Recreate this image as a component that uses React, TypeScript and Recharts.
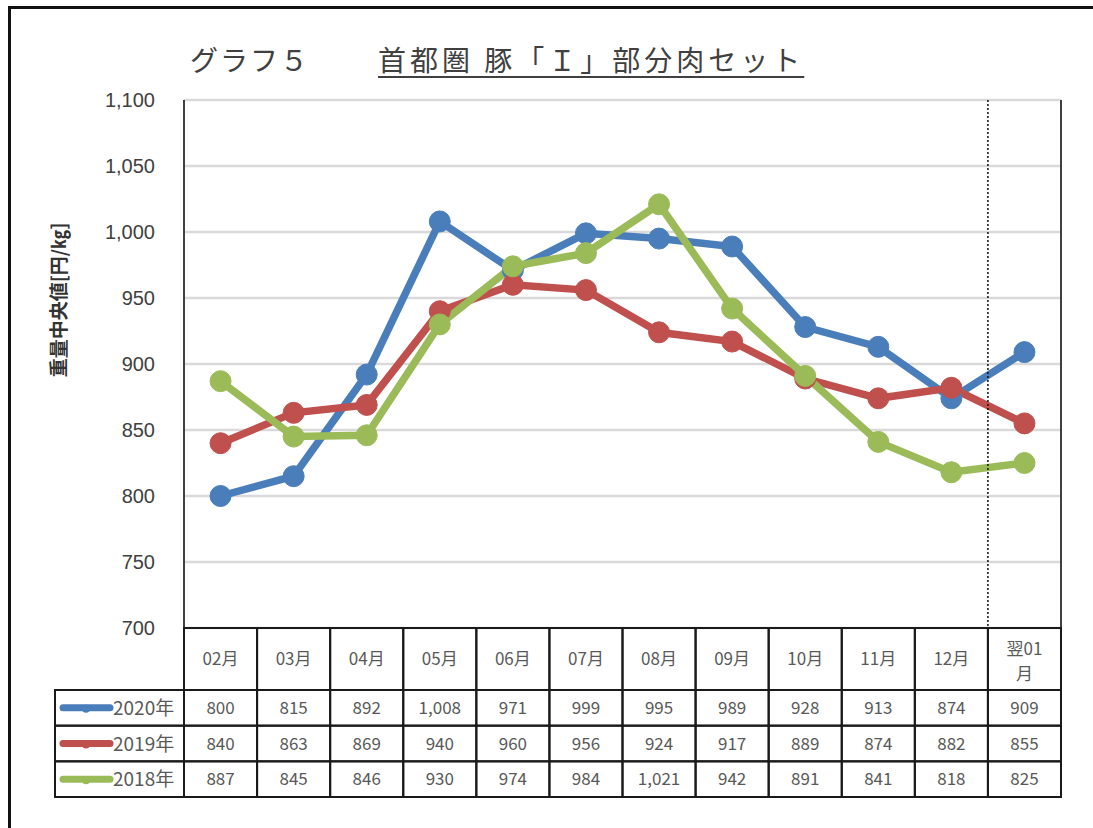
import { LineChart, Line, XAxis, YAxis, CartesianGrid } from "recharts";

const months = ["02月", "03月", "04月", "05月", "06月", "07月", "08月", "09月", "10月", "11月", "12月", "翌01月"];
const y2020 = [800, 815, 892, 1008, 971, 999, 995, 989, 928, 913, 874, 909];
const y2019 = [840, 863, 869, 940, 960, 956, 924, 917, 889, 874, 882, 855];
const y2018 = [887, 845, 846, 930, 974, 984, 1021, 942, 891, 841, 818, 825];
const seriesNames = ["2020年", "2019年", "2018年"];
const seriesColors = ["#4a7ebb", "#c0504d", "#9bbb59"];
const yTicks = [700, 750, 800, 850, 900, 950, 1000, 1050, 1100];

const data = months.map((m, i) => ({ month: m, y2020: y2020[i], y2019: y2019[i], y2018: y2018[i] }));
const seriesValues = [y2020, y2019, y2018];

// layout
const W = 1093;
const H = 828;
const PLOT_L = 184;
const PLOT_R = 1061;
const PLOT_T = 100;
const PLOT_B = 628;
const TABLE_B = 797;
const LEGEND_L = 55;
const CELL_W = (PLOT_R - PLOT_L) / months.length;
const HEAD_H = 62;
const ROW_H = (TABLE_B - PLOT_B - HEAD_H) / 3;

const fmt = (v: number) => v.toLocaleString("en-US");
const cellText = { fontFamily: "'Noto Sans CJK JP', sans-serif", fontSize: 17, fill: "#595959" };
const titleFont = { fontFamily: "'Noto Sans CJK JP', sans-serif", fontSize: 28, color: "#404040" };

// each x tick draws a column of the data table (plus the legend column on the first one)
function TableColumn(props: any) {
  const { x, y, payload } = props;
  const i = months.indexOf(payload.value);
  const left = x - CELL_W / 2;
  const label: string = payload.value;
  return (
    <g>
      {i === months.length - 1 && (
        <line x1={left} x2={left} y1={PLOT_T} y2={y} stroke="#111" strokeWidth={1.5} strokeDasharray="2 2" />
      )}
      <rect x={left} y={y} width={CELL_W} height={HEAD_H} fill="none" stroke="#1a1a1a" strokeWidth={2} />
      {label.length > 3 ? (
        <text textAnchor="middle" {...cellText}>
          <tspan x={x} y={y + 27}>{label.slice(0, 3)}</tspan>
          <tspan x={x} y={y + 52}>{label.slice(3)}</tspan>
        </text>
      ) : (
        <text x={x} y={y + HEAD_H / 2 + 6} textAnchor="middle" {...cellText}>{label}</text>
      )}
      {seriesValues.map((vals, r) => (
        <g key={r}>
          <rect x={left} y={y + HEAD_H + r * ROW_H} width={CELL_W} height={ROW_H} fill="none" stroke="#1a1a1a" strokeWidth={2} />
          <text x={x} y={y + HEAD_H + r * ROW_H + ROW_H / 2 + 6} textAnchor="middle" {...cellText}>{fmt(vals[i])}</text>
        </g>
      ))}
      {i === 0 &&
        seriesNames.map((name, r) => {
          const cy = y + HEAD_H + r * ROW_H + ROW_H / 2;
          return (
            <g key={name}>
              <rect x={LEGEND_L} y={y + HEAD_H + r * ROW_H} width={left - LEGEND_L} height={ROW_H} fill="none" stroke="#1a1a1a" strokeWidth={2} />
              <line x1={63} x2={110} y1={cy} y2={cy} stroke={seriesColors[r]} strokeWidth={7} strokeLinecap="round" />
              <circle cx={86} cy={cy + 1} r={4} fill={seriesColors[r]} />
              <text x={113} y={cy + 7} {...cellText} fontSize={19}>{name}</text>
            </g>
          );
        })}
    </g>
  );
}

function YTick(props: any) {
  const { x, y, payload } = props;
  return (
    <text x={x} y={y + 7} textAnchor="end" fontFamily="'Liberation Sans', Arial, sans-serif" fontSize={20} fill="#404040">
      {fmt(payload.value)}
    </text>
  );
}

export default function App() {
  const keys = ["y2020", "y2019", "y2018"];
  return (
    <div style={{ position: "absolute", left: 0, top: 0, width: W, height: H, overflow: "hidden", background: "#fff" }}>
      <div style={{ position: "absolute", left: 8, top: 6, width: W, height: H, borderTop: "3px solid #111", borderLeft: "3px solid #111" }} />
      <div style={{ position: "absolute", left: 190, top: 41, lineHeight: "36px", letterSpacing: 2, whiteSpace: "pre", ...titleFont }}>
        グラフ５
      </div>
      <div
        style={{
          position: "absolute",
          left: 378,
          top: 41,
          lineHeight: "36px",
          letterSpacing: 4,
          whiteSpace: "pre",
          textDecoration: "underline",
          textUnderlineOffset: 5,
          textDecorationThickness: 2,
          ...titleFont,
        }}
      >
        首都圏 豚「Ｉ」部分肉セット
      </div>
      <div
        style={{
          position: "absolute",
          left: 57,
          top: 300,
          transform: "translate(-50%, -50%) rotate(-90deg)",
          fontFamily: "'Noto Sans CJK JP', sans-serif",
          fontSize: 19,
          fontWeight: 700,
          color: "#333",
          whiteSpace: "nowrap",
        }}
      >
        重量中央値[円/㎏]
      </div>
      <LineChart
        width={W}
        height={H}
        data={data}
        margin={{ top: PLOT_T, right: 0, bottom: H - TABLE_B, left: 0 }}
        style={{ position: "absolute", left: 0, top: 0 }}
      >
        <CartesianGrid vertical={false} stroke="#d9d9d9" strokeWidth={2.5} />
        <XAxis
          dataKey="month"
          interval={0}
          padding={{ left: CELL_W / 2, right: CELL_W / 2 }}
          height={TABLE_B - PLOT_B}
          axisLine={{ stroke: "#1a1a1a", strokeWidth: 2 }}
          tickLine={false}
          tickSize={0}
          tickMargin={0}
          tick={<TableColumn />}
        />
        <XAxis xAxisId="top" dataKey="month" orientation="top" height={0} axisLine={{ stroke: "#404040", strokeWidth: 2 }} tick={false} tickLine={false} />
        <YAxis
          domain={[700, 1100]}
          ticks={yTicks}
          width={PLOT_L}
          axisLine={{ stroke: "#404040", strokeWidth: 2 }}
          tickLine={false}
          tickSize={6}
          tickMargin={23}
          tick={<YTick />}
          interval={0}
        />
        <YAxis yAxisId="r" orientation="right" domain={[700, 1100]} width={W - PLOT_R} axisLine={{ stroke: "#404040", strokeWidth: 2 }} tick={false} tickLine={false} />
        {keys.map((k, i) => (
          <Line
            key={k}
            dataKey={k}
            name={seriesNames[i]}
            stroke={seriesColors[i]}
            strokeWidth={7.5}
            dot={{ r: 10.5, fill: seriesColors[i], stroke: seriesColors[i], strokeWidth: 1 }}
            activeDot={false}
            isAnimationActive={false}
          />
        ))}
      </LineChart>
    </div>
  );
}
